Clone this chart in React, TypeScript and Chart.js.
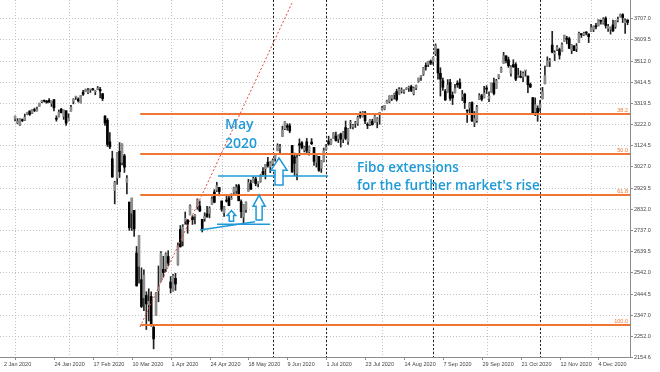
import React, { useEffect, useRef } from "react";
import { Chart, registerables } from "chart.js";
Chart.register(...registerables);

// ---- Daily OHLC, US500 2020 (2 Jan .. 22 Dec) ----
const OPEN = [
  3244.7, 3226.4, 3217.6, 3241.9, 3238.6, 3266.0, 3281.0, 3271.1, 3285.4, 3282.3,
  3303.0, 3323.7, 3328.0, 3321.0, 3330.0, 3315.8, 3333.1, 3247.2, 3255.4, 3289.5,
  3256.5, 3282.3, 3235.7, 3280.6, 3324.9, 3344.9, 3335.5, 3318.3, 3365.9, 3370.5,
  3365.9, 3378.1, 3380.0, 3369.0, 3380.4, 3380.5, 3360.5, 3257.6, 3238.9, 3139.9,
  3062.5, 2916.9, 2974.3, 3096.5, 3045.8, 3075.7, 2954.2, 2863.9, 2813.5, 2825.6,
  2630.9, 2570.0, 2508.6, 2425.7, 2436.5, 2393.5, 2431.9, 2290.7, 2344.4, 2457.8,
  2501.3, 2555.9, 2559.0, 2614.7, 2498.1, 2458.5, 2514.9, 2578.3, 2738.7, 2685.0,
  2777.0, 2782.5, 2805.1, 2795.6, 2799.3, 2842.4, 2845.6, 2784.8, 2787.9, 2810.4,
  2812.6, 2854.7, 2910.0, 2918.5, 2930.9, 2869.1, 2815.0, 2868.9, 2883.1, 2878.3,
  2908.8, 2915.5, 2939.5, 2865.9, 2794.5, 2830.0, 2913.9, 2948.6, 2953.6, 2970.0,
  2948.1, 2958.0, 3004.1, 3015.7, 3046.6, 3025.2, 3038.8, 3064.2, 3098.9, 3111.6,
  3163.8, 3199.9, 3213.3, 3213.4, 3123.5, 3071.0, 2993.8, 3131.0, 3136.1, 3101.6,
  3140.3, 3094.4, 3138.7, 3114.4, 3046.6, 3073.2, 3018.6, 3050.2, 3105.9, 3143.6,
  3132.0, 3155.3, 3166.4, 3153.1, 3176.2, 3152.5, 3205.1, 3141.1, 3226.0, 3208.4,
  3224.2, 3224.3, 3268.5, 3254.9, 3271.6, 3218.6, 3219.8, 3234.3, 3227.2, 3231.8,
  3270.5, 3288.3, 3289.9, 3317.4, 3323.2, 3340.1, 3356.0, 3370.3, 3355.5, 3373.0,
  3368.7, 3380.9, 3387.0, 3392.5, 3360.5, 3386.0, 3418.1, 3436.0, 3450.0, 3485.1,
  3494.7, 3509.7, 3507.4, 3543.8, 3564.7, 3453.6, 3420.0, 3371.9, 3369.8, 3412.6,
  3352.7, 3363.6, 3407.7, 3411.2, 3346.9, 3357.4, 3285.6, 3295.8, 3320.1, 3226.1,
  3236.7, 3333.9, 3350.9, 3341.2, 3385.9, 3338.9, 3367.3, 3408.7, 3384.6, 3434.3,
  3459.7, 3500.0, 3534.0, 3515.5, 3453.7, 3493.5, 3493.7, 3439.4, 3439.9, 3438.5,
  3464.9, 3441.4, 3403.2, 3342.5, 3277.2, 3293.6, 3296.2, 3336.3, 3406.5, 3485.7,
  3508.3, 3583.0, 3543.3, 3563.2, 3562.7, 3552.6, 3600.2, 3610.3, 3612.1, 3559.4,
  3579.3, 3566.8, 3594.5, 3635.5, 3630.0, 3638.6, 3634.2, 3645.9, 3653.8, 3668.3,
  3670.9, 3694.7, 3683.1, 3706.0, 3659.1, 3656.1, 3675.3, 3666.4, 3696.3, 3713.7,
  3722.4, 3684.3, 3698.1,
];
const HIGH = [
  3258.1, 3246.2, 3246.8, 3244.9, 3267.1, 3275.6, 3282.0, 3288.1, 3294.3, 3298.7,
  3317.1, 3329.9, 3331.0, 3329.8, 3337.8, 3326.9, 3333.2, 3258.9, 3285.8, 3293.5,
  3285.9, 3282.3, 3268.4, 3306.9, 3337.6, 3348.0, 3341.4, 3352.3, 3375.6, 3381.5,
  3385.1, 3380.7, 3385.0, 3375.0, 3393.5, 3389.2, 3360.8, 3259.8, 3247.0, 3182.5,
  3097.1, 2959.7, 3091.0, 3136.7, 3131.0, 3083.0, 2985.9, 2863.9, 2882.6, 2825.6,
  2660.9, 2711.3, 2563.0, 2553.9, 2453.6, 2467.0, 2453.0, 2300.7, 2449.7, 2571.4,
  2637.0, 2615.9, 2631.8, 2641.4, 2522.8, 2533.2, 2538.2, 2676.9, 2756.9, 2760.8,
  2818.6, 2782.5, 2851.9, 2801.9, 2806.5, 2879.2, 2869.0, 2785.5, 2815.1, 2844.9,
  2842.7, 2887.7, 2921.2, 2954.9, 2930.9, 2869.1, 2844.2, 2898.2, 2891.1, 2901.9,
  2932.2, 2944.3, 2945.8, 2874.1, 2852.8, 2865.0, 2968.1, 2964.2, 2980.3, 2978.5,
  2956.8, 2990.0, 3021.7, 3036.3, 3068.7, 3049.2, 3062.2, 3081.1, 3130.9, 3128.9,
  3211.7, 3233.1, 3222.7, 3223.3, 3123.5, 3088.4, 3079.8, 3153.5, 3141.2, 3120.0,
  3155.5, 3120.9, 3154.9, 3115.0, 3086.3, 3073.7, 3053.9, 3111.5, 3128.4, 3165.8,
  3152.0, 3182.6, 3184.2, 3171.8, 3179.8, 3186.8, 3235.3, 3201.0, 3238.3, 3220.4,
  3233.5, 3258.6, 3277.3, 3279.3, 3280.0, 3227.3, 3241.4, 3243.7, 3264.7, 3250.9,
  3272.2, 3302.7, 3306.8, 3330.8, 3351.0, 3352.5, 3363.3, 3381.0, 3387.9, 3387.2,
  3378.5, 3387.6, 3395.1, 3399.5, 3390.8, 3400.0, 3432.1, 3444.2, 3481.1, 3501.4,
  3509.2, 3514.8, 3528.0, 3588.1, 3564.9, 3479.2, 3432.0, 3380.0, 3424.8, 3425.6,
  3369.0, 3402.9, 3419.5, 3428.9, 3375.2, 3362.3, 3285.6, 3320.3, 3323.4, 3278.7,
  3306.9, 3360.7, 3357.9, 3393.6, 3397.2, 3369.1, 3409.6, 3431.6, 3426.3, 3447.3,
  3482.3, 3549.9, 3534.0, 3527.9, 3489.1, 3515.8, 3502.4, 3476.9, 3464.9, 3460.5,
  3466.5, 3441.4, 3409.5, 3342.5, 3341.1, 3304.9, 3330.1, 3389.5, 3486.3, 3529.1,
  3521.6, 3646.0, 3557.2, 3581.2, 3569.0, 3593.7, 3628.5, 3623.1, 3619.1, 3585.2,
  3581.2, 3589.8, 3642.3, 3635.5, 3642.0, 3644.3, 3634.2, 3678.5, 3671.0, 3682.7,
  3699.2, 3697.4, 3708.5, 3712.4, 3678.5, 3665.9, 3697.6, 3695.3, 3711.3, 3725.1,
  3726.7, 3702.9, 3698.3,
];
const LOW = [
  3235.5, 3222.3, 3214.6, 3232.4, 3236.7, 3263.7, 3260.9, 3268.4, 3277.8, 3280.7,
  3302.8, 3318.9, 3322.0, 3316.6, 3320.0, 3301.9, 3281.5, 3234.5, 3253.2, 3271.9,
  3242.8, 3214.7, 3235.7, 3280.6, 3313.8, 3334.4, 3322.1, 3317.8, 3352.7, 3369.7,
  3360.5, 3366.2, 3376.0, 3355.6, 3378.8, 3341.0, 3328.5, 3214.7, 3118.8, 3109.0,
  2977.4, 2855.8, 2945.2, 2976.6, 3034.4, 2999.8, 2901.5, 2734.4, 2734.0, 2707.2,
  2478.9, 2492.4, 2380.9, 2367.0, 2280.5, 2319.8, 2295.6, 2191.9, 2344.4, 2407.5,
  2500.7, 2520.0, 2545.3, 2571.2, 2447.5, 2455.8, 2460.0, 2574.6, 2657.7, 2663.3,
  2762.4, 2721.2, 2805.1, 2761.5, 2764.3, 2830.9, 2820.4, 2727.1, 2776.0, 2794.3,
  2791.8, 2852.9, 2860.7, 2912.2, 2892.5, 2821.6, 2797.9, 2863.6, 2847.7, 2876.5,
  2902.9, 2903.4, 2869.6, 2793.2, 2766.6, 2816.8, 2913.9, 2922.4, 2953.6, 2938.6,
  2933.6, 2955.0, 2988.2, 2969.8, 3023.4, 2998.6, 3031.5, 3051.6, 3098.9, 3090.4,
  3163.8, 3196.0, 3193.1, 3181.5, 2999.5, 2984.5, 2965.7, 3076.1, 3108.0, 3093.5,
  3083.1, 3079.4, 3127.1, 3032.1, 3024.0, 3004.6, 2999.7, 3047.8, 3101.2, 3124.5,
  3128.0, 3155.3, 3142.9, 3136.5, 3115.7, 3136.2, 3149.4, 3127.7, 3200.8, 3198.6,
  3205.7, 3215.2, 3247.8, 3253.1, 3222.7, 3200.1, 3214.3, 3216.2, 3227.2, 3204.1,
  3220.3, 3284.5, 3286.4, 3317.4, 3318.1, 3328.7, 3335.4, 3326.4, 3355.5, 3363.4,
  3361.6, 3379.2, 3370.2, 3369.7, 3354.7, 3379.3, 3413.1, 3421.1, 3444.1, 3468.4,
  3484.3, 3493.3, 3494.6, 3535.2, 3427.4, 3349.6, 3375.0, 3329.3, 3366.8, 3329.3,
  3310.5, 3363.6, 3389.3, 3384.5, 3328.8, 3292.4, 3229.1, 3271.0, 3232.6, 3209.5,
  3228.4, 3332.9, 3327.5, 3340.5, 3361.4, 3323.7, 3367.3, 3354.5, 3384.6, 3428.2,
  3458.1, 3499.6, 3500.9, 3480.6, 3441.0, 3480.5, 3419.9, 3435.7, 3433.1, 3415.3,
  3440.4, 3364.9, 3388.7, 3268.9, 3259.8, 3233.9, 3279.7, 3336.3, 3405.2, 3485.7,
  3484.3, 3547.5, 3511.9, 3557.0, 3518.6, 3552.6, 3600.2, 3588.7, 3567.3, 3543.8,
  3556.9, 3552.8, 3594.5, 3617.8, 3626.0, 3629.3, 3594.4, 3645.9, 3644.8, 3657.2,
  3670.9, 3678.9, 3678.8, 3660.5, 3645.2, 3633.4, 3645.8, 3659.6, 3688.6, 3710.9,
  3685.8, 3636.5, 3676.2,
];
const CLOSE = [
  3257.9, 3234.9, 3246.3, 3237.2, 3253.1, 3274.7, 3265.4, 3288.1, 3283.2, 3289.3,
  3316.8, 3329.6, 3326.0, 3320.8, 3321.8, 3325.5, 3295.5, 3243.6, 3276.2, 3273.4,
  3283.7, 3225.5, 3248.9, 3297.6, 3334.7, 3345.8, 3327.7, 3352.1, 3357.8, 3379.5,
  3373.9, 3380.2, 3378.0, 3370.3, 3386.2, 3373.2, 3337.8, 3225.9, 3128.2, 3116.4,
  2978.8, 2954.2, 3090.2, 3003.4, 3130.1, 3023.9, 2972.4, 2746.6, 2882.2, 2741.4,
  2480.6, 2711.0, 2386.1, 2529.2, 2398.1, 2409.4, 2304.9, 2237.4, 2447.3, 2475.6,
  2630.1, 2541.5, 2626.7, 2584.6, 2470.5, 2526.9, 2488.7, 2663.7, 2659.4, 2750.0,
  2789.8, 2761.6, 2846.1, 2783.4, 2799.6, 2874.6, 2823.2, 2736.6, 2799.3, 2797.8,
  2836.7, 2878.5, 2863.4, 2939.5, 2912.4, 2830.7, 2842.7, 2868.4, 2848.4, 2881.2,
  2929.8, 2930.2, 2870.1, 2820.0, 2852.5, 2863.7, 2953.9, 2922.9, 2971.6, 2948.5,
  2955.5, 2985.0, 2991.8, 3036.1, 3029.7, 3044.3, 3055.7, 3080.8, 3122.9, 3112.4,
  3193.9, 3232.4, 3207.2, 3190.1, 3002.1, 3041.3, 3066.6, 3124.7, 3113.5, 3115.3,
  3097.7, 3117.9, 3131.3, 3050.3, 3083.8, 3009.1, 3053.2, 3100.3, 3115.9, 3130.0,
  3148.0, 3179.7, 3145.3, 3169.9, 3152.1, 3185.0, 3155.2, 3197.5, 3226.6, 3215.6,
  3224.7, 3251.8, 3257.3, 3276.0, 3235.7, 3215.6, 3239.4, 3218.4, 3258.4, 3246.2,
  3271.1, 3294.6, 3306.5, 3327.8, 3349.2, 3351.3, 3360.5, 3333.7, 3380.4, 3373.4,
  3372.9, 3382.0, 3389.8, 3374.9, 3385.5, 3397.2, 3431.3, 3443.6, 3478.7, 3484.6,
  3508.0, 3500.3, 3526.7, 3580.8, 3455.1, 3427.0, 3390.0, 3331.8, 3399.0, 3339.2,
  3341.0, 3383.5, 3401.2, 3385.5, 3357.0, 3319.5, 3281.1, 3315.6, 3236.9, 3246.6,
  3298.5, 3351.6, 3335.5, 3363.0, 3380.8, 3348.4, 3408.6, 3361.0, 3419.4, 3446.8,
  3477.1, 3534.2, 3511.9, 3488.7, 3483.3, 3483.8, 3426.9, 3443.1, 3435.6, 3453.5,
  3465.4, 3401.0, 3390.7, 3271.0, 3310.1, 3270.0, 3310.2, 3369.2, 3443.4, 3510.5,
  3509.4, 3550.5, 3545.5, 3572.7, 3537.0, 3585.2, 3626.9, 3609.5, 3567.8, 3581.9,
  3557.5, 3577.6, 3635.4, 3629.7, 3638.0, 3638.4, 3621.6, 3662.5, 3669.0, 3666.7,
  3699.1, 3692.0, 3702.3, 3672.8, 3668.1, 3663.5, 3647.5, 3694.6, 3701.2, 3722.5,
  3709.4, 3694.9, 3687.3,
];

// time axis labels (one every 16 bars)
const DATE_LABELS = [
  "2 Jan 2020", "24 Jan 2020", "17 Feb 2020", "10 Mar 2020", "1 Apr 2020", "24 Apr 2020",
  "18 May 2020", "9 Jun 2020", "1 Jul 2020", "23 Jul 2020", "14 Aug 2020", "7 Sep 2020",
  "29 Sep 2020", "21 Oct 2020", "12 Nov 2020", "4 Dec 2020",
];
const DATE_LABEL_STEP = 16;
// bar indices of the first bar of each month (period separators)
const MONTH_START_IDX = [0, 22, 42, 64, 85, 106, 128, 151, 172, 194, 216, 237];
// bar indices of the drawn vertical lines
const VLINE_IDX = [106, 128, 172, 216];
// price axis labels
const PRICE_TICKS = [
  3707.0, 3609.5, 3512.0, 3414.5, 3319.5, 3222.0, 3124.5, 3027.0, 2929.5,
  2832.0, 2737.0, 2639.5, 2542.0, 2444.5, 2347.0, 2252.0, 2154.6,
];
// Fibonacci levels
const FIB_PRICES = [3266.0, 3082.0, 2898.0, 2301.0];
const FIB_LABELS = ["38.2", "50.0", "61.8", "100.0"];
const FIB_START_IDX = 51.5;
// drawn objects (bar index, price)
const TREND_LINE = [[51.4, 2292], [113.9, 3775]];
const BLUE_LINES = [
  [[83.5, 2983.5], [128.8, 2983.5]],
  [[83.1, 2762.3], [104.9, 2762.3]],
  [[76.1, 2736.2], [98.7, 2774.2]],
];
const ARROWS = [
  { i: 89.0, top: 2825, bottom: 2776, w: 3.6 },
  { i: 100.4, top: 2896, bottom: 2782, w: 5.0 },
  { i: 108.6, top: 3066, bottom: 2942, w: 6.6 },
];
const TEXTS = [
  { t: "May", i: 86.4, p: 3217 },
  { t: "2020", i: 86.4, p: 3130 },
  { t: "Fibo extensions", i: 140.7, p: 3020 },
  { t: "for the further market's rise", i: 140.7, p: 2937 },
];

const ORANGE = "#ef7636";
const BLUE = "#1e9ad8";
const SMALL_FONT = '5.5px "Liberation Sans", Arial, sans-serif';

const overlay = {
  id: "overlay",
  beforeDatasetsDraw(chart: any) {
    const { ctx, chartArea: a, scales } = chart;
    const x = scales.x, y = scales.y;
    ctx.save();
    ctx.lineWidth = 1;
    ctx.strokeStyle = "#c2c2c2";
    ctx.setLineDash([1, 2]);
    PRICE_TICKS.forEach((p) => {
      const py = Math.round(y.getPixelForValue(p)) + 0.5;
      ctx.beginPath(); ctx.moveTo(a.left, py); ctx.lineTo(a.right, py); ctx.stroke();
    });
    MONTH_START_IDX.forEach((i) => {
      const px = Math.round(x.getPixelForValue(i)) + 0.5;
      ctx.beginPath(); ctx.moveTo(px, a.top); ctx.lineTo(px, a.bottom); ctx.stroke();
    });
    ctx.strokeStyle = "#222";
    ctx.setLineDash([2, 2]);
    VLINE_IDX.forEach((i) => {
      const px = Math.round(x.getPixelForValue(i)) + 0.5;
      ctx.beginPath(); ctx.moveTo(px, a.top); ctx.lineTo(px, a.bottom); ctx.stroke();
    });
    ctx.restore();
  },
  afterDatasetsDraw(chart: any) {
    const { ctx, chartArea: a, scales } = chart;
    const x = scales.x, y = scales.y;
    const X = (v: number) => x.getPixelForValue(v);
    const Y = (v: number) => y.getPixelForValue(v);
    ctx.save();

    // trend line (red dotted)
    ctx.save();
    ctx.beginPath(); ctx.rect(a.left, a.top, a.right - a.left, a.bottom - a.top); ctx.clip();
    ctx.strokeStyle = "#e2463c";
    ctx.lineWidth = 1;
    ctx.setLineDash([2, 2]);
    ctx.beginPath();
    ctx.moveTo(X(TREND_LINE[0][0]), Y(TREND_LINE[0][1]));
    ctx.lineTo(X(TREND_LINE[1][0]), Y(TREND_LINE[1][1]));
    ctx.stroke();
    ctx.restore();

    // fib lines
    ctx.setLineDash([]);
    ctx.strokeStyle = ORANGE;
    ctx.lineWidth = 2;
    ctx.fillStyle = ORANGE;
    ctx.font = SMALL_FONT;
    ctx.textAlign = "right";
    ctx.textBaseline = "alphabetic";
    FIB_PRICES.forEach((p, k) => {
      const py = Math.round(Y(p));
      ctx.beginPath(); ctx.moveTo(X(FIB_START_IDX), py); ctx.lineTo(a.right, py); ctx.stroke();
      ctx.fillText(FIB_LABELS[k], a.right - 2, py - 2);
    });

    // blue lines
    ctx.strokeStyle = BLUE;
    ctx.lineWidth = 1.6;
    BLUE_LINES.forEach(([p0, p1]) => {
      ctx.beginPath(); ctx.moveTo(X(p0[0]), Y(p0[1])); ctx.lineTo(X(p1[0]), Y(p1[1])); ctx.stroke();
    });

    // arrows
    ARROWS.forEach((ar) => {
      const cx = X(ar.i);
      const t = Y(ar.top), b = Y(ar.bottom);
      const w = X(ar.i + ar.w) - cx;
      const hh = (b - t) * 0.45;
      ctx.beginPath();
      ctx.moveTo(cx, t);
      ctx.lineTo(cx + w / 2, t + hh);
      ctx.lineTo(cx + w / 4, t + hh);
      ctx.lineTo(cx + w / 4, b);
      ctx.lineTo(cx - w / 4, b);
      ctx.lineTo(cx - w / 4, t + hh);
      ctx.lineTo(cx - w / 2, t + hh);
      ctx.closePath();
      ctx.fillStyle = "#fff";
      ctx.fill();
      ctx.lineWidth = 1.5;
      ctx.strokeStyle = BLUE;
      ctx.stroke();
    });

    // texts
    ctx.fillStyle = BLUE;
    ctx.textAlign = "left";
    ctx.textBaseline = "middle";
    TEXTS.forEach((tx, k) => {
      ctx.font = k < 2 ? '600 14px "Open Sans", sans-serif' : '600 13.5px "Open Sans", sans-serif';
      ctx.fillText(tx.t, X(tx.i), Y(tx.p));
    });

    // axes
    ctx.strokeStyle = "#8c8c8c";
    ctx.lineWidth = 1;
    ctx.beginPath();
    ctx.moveTo(a.right + 0.5, a.top); ctx.lineTo(a.right + 0.5, a.bottom + 0.5);
    ctx.moveTo(a.left, a.bottom + 0.5); ctx.lineTo(a.right + 0.5, a.bottom + 0.5);
    ctx.stroke();

    ctx.font = SMALL_FONT;
    ctx.fillStyle = "#444";
    ctx.textAlign = "left";
    ctx.textBaseline = "middle";
    PRICE_TICKS.forEach((p) => {
      const py = Math.round(Y(p)) + 0.5;
      ctx.beginPath(); ctx.moveTo(a.right, py); ctx.lineTo(a.right + 3, py); ctx.stroke();
      ctx.fillText(p.toFixed(1), a.right + 4, py);
    });
    DATE_LABELS.forEach((lab, k) => {
      const px = Math.round(X(k * DATE_LABEL_STEP)) + 0.5;
      ctx.beginPath(); ctx.moveTo(px, a.bottom); ctx.lineTo(px, a.bottom + 3); ctx.stroke();
      const lx = k === 0 ? a.left + 4 : px;
      ctx.fillText(lab, lx, a.bottom + 7);
    });
    ctx.restore();
  },
};

export default function App() {
  const ref = useRef<HTMLCanvasElement>(null);
  useEffect(() => {
    const idx = CLOSE.map((_, i) => i);
    const bodies = idx.map((i) => ({ x: i, y: [OPEN[i], CLOSE[i]] }));
    const wicks = idx.map((i) => ({ x: i, y: [LOW[i], HIGH[i]] }));
    const bodyColors = idx.map((i) => (CLOSE[i] >= OPEN[i] ? "#8e8e8e" : "#000000"));
    const chart = new Chart(ref.current as HTMLCanvasElement, {
      type: "bar",
      data: {
        datasets: [
          { data: bodies as any, backgroundColor: bodyColors, barThickness: 2, minBarLength: 1, grouped: false, borderWidth: 0 } as any,
          { data: wicks as any, backgroundColor: "#222", barThickness: 1, grouped: false, borderWidth: 0 } as any,
        ],
      },
      options: {
        responsive: false,
        animation: false,
        devicePixelRatio: 1,
        events: [],
        layout: { padding: { left: 0, right: 30, top: 0, bottom: 15 } },
        plugins: { legend: { display: false }, tooltip: { enabled: false } },
        scales: {
          x: { type: "linear", min: -6.2, max: 253, display: false, offset: false },
          y: { type: "linear", min: 2154.6, max: 3789.4, display: false },
        },
      },
      plugins: [overlay],
    });
    return () => chart.destroy();
  }, []);
  return (
    <div style={{ position: "fixed", left: 0, top: 0, width: 660, height: 372, background: "#fff" }}>
      <canvas ref={ref} width={660} height={372} style={{ display: "block" }} />
    </div>
  );
}
